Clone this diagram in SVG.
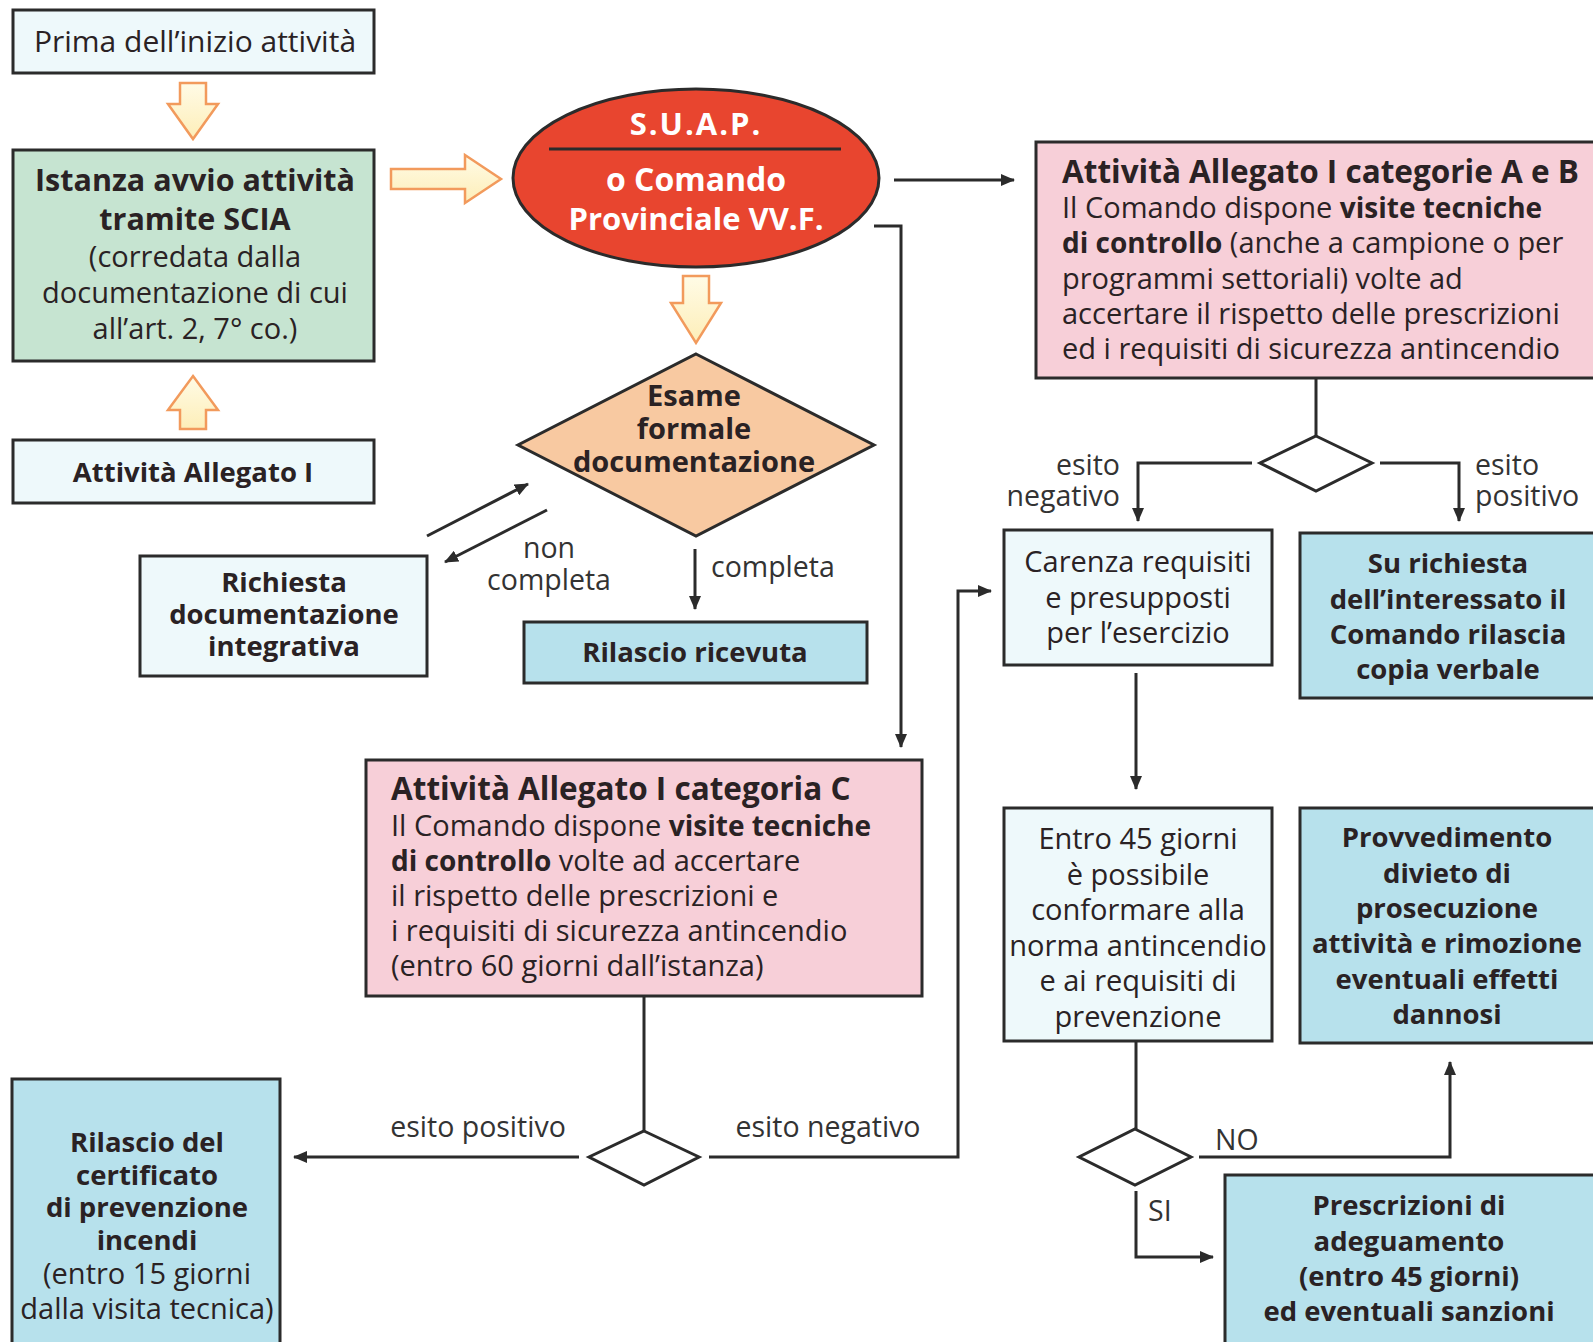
<svg xmlns="http://www.w3.org/2000/svg" width="1593" height="1342" viewBox="0 0 1593 1342">
  <defs>
    <marker id="arr" viewBox="0 0 14 12" refX="13" refY="6" markerWidth="14" markerHeight="12" markerUnits="userSpaceOnUse" orient="auto">
      <path d="M0,0 L14,6 L0,12 z" fill="#2b2b2b"/>
    </marker>
    <linearGradient id="hollow" x1="0" y1="0" x2="0" y2="1">
      <stop offset="0" stop-color="#fffbe6"/>
      <stop offset="1" stop-color="#fdeeb8"/>
    </linearGradient>
  </defs>
  <style>
    .box { stroke: #2b2b2b; stroke-width: 3; }
    .pale { fill: #eef9fb; }
    .blue { fill: #b7e1ec; }
    .green { fill: #c6e4d1; }
    .pink { fill: #f7cfd8; }
    .hollow { fill: url(#hollow); stroke: #f29a5c; stroke-width: 2.5; stroke-linejoin: miter; }
    .wire { fill: none; stroke: #2b2b2b; stroke-width: 3; }
    .diam { fill: #ffffff; stroke: #2b2b2b; stroke-width: 3; }
    text { font-family: "Open Sans", "Noto Sans", "DejaVu Sans", sans-serif; fill: #2a2224; }
    .r { font-size: 29px; }
    .b { font-size: 27.5px; font-weight: bold; }
    .t { font-size: 31.5px; font-weight: bold; }
    .c { text-anchor: middle; }
    .lbl { font-size: 28.5px; fill: #333; }
    .w { fill: #ffffff; font-weight: bold; font-size: 31px; text-anchor: middle; }
  </style>

  <!-- connectors -->
  <g id="connectors">
    <!-- hollow flow arrows -->
    <polygon class="hollow" points="180,83 206,83 206,104 218,104 193,139 168,104 180,104"/>
    <polygon class="hollow" points="193,376 218,410 206,410 206,429 180,429 180,410 168,410"/>
    <polygon class="hollow" points="391,169 465,169 465,155 501,179 465,203 465,189 391,189"/>
    <polygon class="hollow" points="683,276 709,276 709,303 721,303 696,343 671,303 683,303"/>

    <!-- S.U.A.P. outputs -->
    <line class="wire" x1="894" y1="180" x2="1014" y2="180" marker-end="url(#arr)"/>
    <polyline class="wire" points="874,226 901,226 901,747" marker-end="url(#arr)"/>

    <!-- integrative documentation loop -->
    <line class="wire" x1="427" y1="536" x2="528" y2="484" marker-end="url(#arr)"/>
    <line class="wire" x1="547" y1="510" x2="445" y2="562" marker-end="url(#arr)"/>
    <text class="lbl c" x="549" y="558">non</text>
    <text class="lbl c" x="549" y="590">completa</text>

    <!-- completa -->
    <line class="wire" x1="695" y1="549" x2="695" y2="609" marker-end="url(#arr)"/>
    <text class="lbl" x="711" y="577">completa</text>

    <!-- categories A and B outcome -->
    <line class="wire" x1="1316" y1="378" x2="1316" y2="436"/>
    <polyline class="wire" points="1252,463 1138,463 1138,521" marker-end="url(#arr)"/>
    <polyline class="wire" points="1380,463 1459,463 1459,521" marker-end="url(#arr)"/>
    <text class="lbl" x="1120" y="475" text-anchor="end">esito</text>
    <text class="lbl" x="1120" y="506" text-anchor="end">negativo</text>
    <text class="lbl" x="1475" y="475">esito</text>
    <text class="lbl" x="1475" y="506">positivo</text>

    <line class="wire" x1="1136" y1="673" x2="1136" y2="789" marker-end="url(#arr)"/>

    <!-- 45-day check -->
    <line class="wire" x1="1136" y1="1041" x2="1136" y2="1129"/>
    <polyline class="wire" points="1199,1157 1450,1157 1450,1062" marker-end="url(#arr)"/>
    <text class="lbl" x="1215" y="1150">NO</text>
    <polyline class="wire" points="1136,1191 1136,1257 1213,1257" marker-end="url(#arr)"/>
    <text class="lbl" x="1148" y="1221">SI</text>

    <!-- category C outcome -->
    <line class="wire" x1="644" y1="996" x2="644" y2="1131"/>
    <line class="wire" x1="579" y1="1157" x2="294" y2="1157" marker-end="url(#arr)"/>
    <polyline class="wire" points="709,1157 958,1157 958,591 991,591" marker-end="url(#arr)"/>
    <text class="lbl c" x="478" y="1137">esito positivo</text>
    <text class="lbl c" x="828" y="1137">esito negativo</text>
  </g>

  <!-- decision diamonds -->
  <g id="dec-ab"><polygon class="diam" points="1316,436 1372,463 1316,491 1260,463"/></g>
  <g id="dec-c"><polygon class="diam" points="644,1131 699,1157 644,1185 589,1157"/></g>
  <g id="dec-45"><polygon class="diam" points="1135,1129 1191,1157 1135,1185 1079,1157"/></g>

  <g id="prima">
    <rect class="box pale" x="13" y="10" width="361" height="63"/>
    <text class="r c" x="195" y="52" style="font-size:30px">Prima dell’inizio attività</text>
  </g>

  <g id="istanza">
    <rect class="box green" x="13" y="150" width="361" height="211"/>
    <text class="t c" x="195" y="191" style="font-size:30.5px">Istanza avvio attività</text>
    <text class="t c" x="195" y="230" style="font-size:30.5px">tramite SCIA</text>
    <text class="r c" x="195" y="267">(corredata dalla</text>
    <text class="r c" x="195" y="303">documentazione di cui</text>
    <text class="r c" x="195" y="339">all’art. 2, 7° co.)</text>
  </g>

  <g id="allegato">
    <rect class="box pale" x="13" y="440" width="361" height="63"/>
    <text class="b c" x="193" y="482">Attività Allegato I</text>
  </g>

  <g id="suap">
    <ellipse cx="696" cy="178" rx="183" ry="89" fill="#e8452f" stroke="#2b2b2b" stroke-width="3"/>
    <text class="w" x="696" y="135" style="letter-spacing:2px">S.U.A.P.</text>
    <line x1="549" y1="149" x2="841" y2="149" stroke="#2b2b2b" stroke-width="3"/>
    <text class="w" x="696" y="191" style="font-size:32px">o Comando</text>
    <text class="w" x="696" y="230">Provinciale VV.F.</text>
  </g>

  <g id="esame">
    <polygon points="696,354 874,445 696,536 518,445" fill="#f8c9a1" stroke="#2b2b2b" stroke-width="3"/>
    <text class="t c" x="694" y="406" style="font-size:29px">Esame</text>
    <text class="t c" x="694" y="439" style="font-size:29px">formale</text>
    <text class="t c" x="694" y="472" style="font-size:29px">documentazione</text>
  </g>

  <g id="richiesta">
    <rect class="box pale" x="140" y="556" width="287" height="120"/>
    <text class="b c" x="284" y="592">Richiesta</text>
    <text class="b c" x="284" y="624">documentazione</text>
    <text class="b c" x="284" y="656">integrativa</text>
  </g>

  <g id="ricevuta">
    <rect class="box blue" x="524" y="622" width="343" height="61"/>
    <text class="b c" x="695" y="662">Rilascio ricevuta</text>
  </g>

  <g id="cat-ab">
    <rect class="box pink" x="1036" y="142" width="560" height="236"/>
    <text class="t" x="1062" y="183">Attività Allegato I categorie A e B</text>
    <text class="r" x="1062" y="218">Il Comando dispone <tspan font-weight="bold" font-size="28px">visite tecniche</tspan></text>
    <text class="r" x="1062" y="253"><tspan font-weight="bold" font-size="28px">di controllo</tspan> (anche a campione o per</text>
    <text class="r" x="1062" y="289">programmi settoriali) volte ad</text>
    <text class="r" x="1062" y="324">accertare il rispetto delle prescrizioni</text>
    <text class="r" x="1062" y="359">ed i requisiti di sicurezza antincendio</text>
  </g>

  <g id="carenza">
    <rect class="box pale" x="1004" y="530" width="268" height="135"/>
    <text class="r c" x="1138" y="572">Carenza requisiti</text>
    <text class="r c" x="1138" y="608">e presupposti</text>
    <text class="r c" x="1138" y="643">per l’esercizio</text>
  </g>

  <g id="copia-verbale">
    <rect class="box blue" x="1300" y="533" width="296" height="165"/>
    <text class="b c" x="1448" y="573">Su richiesta</text>
    <text class="b c" x="1448" y="609">dell’interessato il</text>
    <text class="b c" x="1448" y="644">Comando rilascia</text>
    <text class="b c" x="1448" y="679">copia verbale</text>
  </g>

  <g id="cat-c">
    <rect class="box pink" x="366" y="760" width="556" height="236"/>
    <text class="t" x="391" y="800">Attività Allegato I categoria C</text>
    <text class="r" x="391" y="836">Il Comando dispone <tspan font-weight="bold" font-size="28px">visite tecniche</tspan></text>
    <text class="r" x="391" y="871"><tspan font-weight="bold" font-size="28px">di controllo</tspan> volte ad accertare</text>
    <text class="r" x="391" y="906">il rispetto delle prescrizioni e</text>
    <text class="r" x="391" y="941">i requisiti di sicurezza antincendio</text>
    <text class="r" x="391" y="976">(entro 60 giorni dall’istanza)</text>
  </g>

  <g id="entro-45">
    <rect class="box pale" x="1004" y="808" width="268" height="233"/>
    <text class="r c" x="1138" y="849">Entro 45 giorni</text>
    <text class="r c" x="1138" y="885">è possibile</text>
    <text class="r c" x="1138" y="920">conformare alla</text>
    <text class="r c" x="1138" y="956">norma antincendio</text>
    <text class="r c" x="1138" y="991">e ai requisiti di</text>
    <text class="r c" x="1138" y="1027">prevenzione</text>
  </g>

  <g id="provvedimento">
    <rect class="box blue" x="1300" y="808" width="296" height="235"/>
    <text class="b c" x="1447" y="847">Provvedimento</text>
    <text class="b c" x="1447" y="883">divieto di</text>
    <text class="b c" x="1447" y="918">prosecuzione</text>
    <text class="b c" x="1447" y="953">attività e rimozione</text>
    <text class="b c" x="1447" y="989">eventuali effetti</text>
    <text class="b c" x="1447" y="1024">dannosi</text>
  </g>

  <g id="prescrizioni">
    <rect class="box blue" x="1225" y="1175" width="371" height="170"/>
    <text class="b c" x="1409" y="1215">Prescrizioni di</text>
    <text class="b c" x="1409" y="1251">adeguamento</text>
    <text class="b c" x="1409" y="1286">(entro 45 giorni)</text>
    <text class="b c" x="1409" y="1321">ed eventuali sanzioni</text>
  </g>

  <g id="certificato">
    <rect class="box blue" x="12" y="1079" width="268" height="266"/>
    <text class="b c" x="147" y="1152">Rilascio del</text>
    <text class="b c" x="147" y="1185">certificato</text>
    <text class="b c" x="147" y="1217">di prevenzione</text>
    <text class="b c" x="147" y="1250">incendi</text>
    <text class="r c" x="147" y="1284">(entro 15 giorni</text>
    <text class="r c" x="147" y="1319">dalla visita tecnica)</text>
  </g>
</svg>
